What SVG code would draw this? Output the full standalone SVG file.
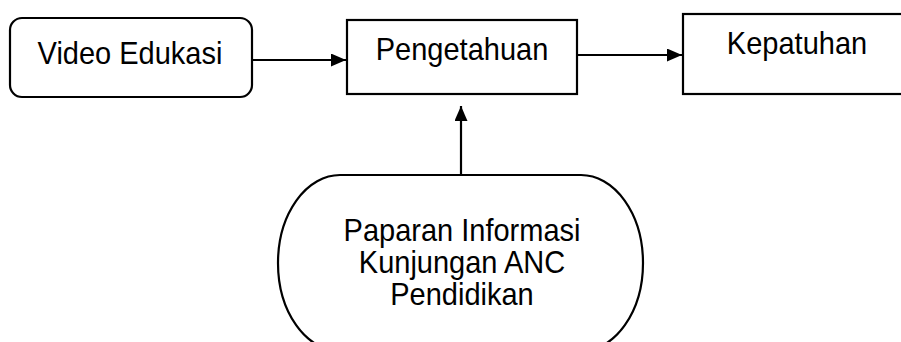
<svg xmlns="http://www.w3.org/2000/svg" width="901" height="342" viewBox="0 0 901 342">
<style>
.box{fill:#fff;stroke:#000;stroke-width:2.2}
.t{font-family:"Liberation Sans",Arial,sans-serif;font-size:29px;fill:#000;text-anchor:middle}
.c{stroke:#000;stroke-width:2.2;fill:none}
</style>
<defs>
<marker id="ah" markerWidth="15" markerHeight="13" refX="15" refY="6.5" orient="auto" markerUnits="userSpaceOnUse">
<path d="M0,0 L15,6.5 L0,13 Z" fill="#000"/>
</marker>
</defs>
<rect width="901" height="342" fill="#fff"/>
<g id="video-edukasi">
<rect class="box" x="10" y="18" width="242" height="79" rx="12"/>
<text class="t" transform="translate(130,64) scale(1,1.06)">Video Edukasi</text>
</g>
<g id="pengetahuan">
<rect class="box" x="347" y="20" width="230" height="74"/>
<text class="t" transform="translate(462,60) scale(1,1.06)">Pengetahuan</text>
</g>
<g id="kepatuhan">
<rect class="box" x="683" y="14" width="222" height="80"/>
<text class="t" transform="translate(797,54) scale(1,1.06)">Kepatuhan</text>
</g>
<g id="paparan">
<path class="box" d="M340,175 L581,175 A62,88 0 0 1 581,351 L340,351 A62,88 0 0 1 340,175 Z"/>
<text class="t" transform="translate(462,241) scale(1,1.06)">Paparan Informasi</text>
<text class="t" transform="translate(462,273) scale(1,1.06)">Kunjungan ANC</text>
<text class="t" transform="translate(462,305) scale(1,1.06)">Pendidikan</text>
</g>
<g id="connectors">
<line class="c" x1="252" y1="60" x2="346" y2="60" marker-end="url(#ah)"/>
<line class="c" x1="577" y1="55" x2="682" y2="55" marker-end="url(#ah)"/>
<line class="c" x1="461" y1="175" x2="461" y2="106" marker-end="url(#ah)"/>
</g>
</svg>
